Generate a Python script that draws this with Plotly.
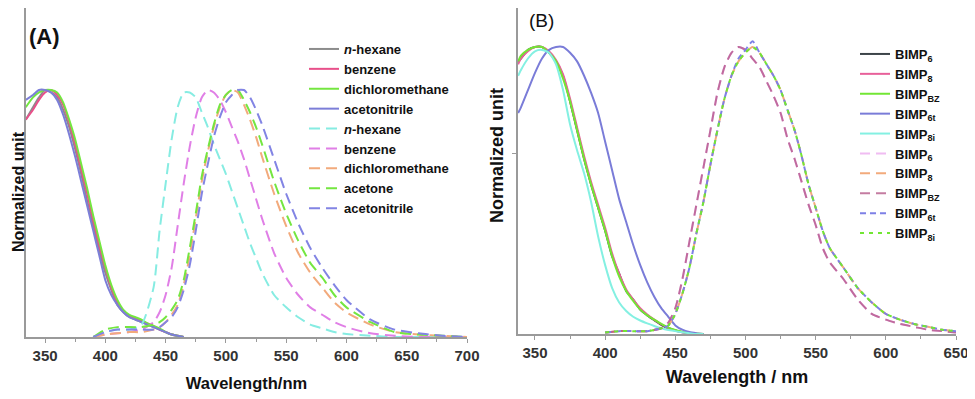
import plotly.graph_objects as go

# ---- panel A: solvent series ----
abs_a_nm = [334, 340, 345, 350, 355, 360, 365, 370, 375, 380, 385, 390, 395, 400,
            405, 410, 415, 420, 425, 430, 435, 440, 445, 450, 455, 460, 465]
abs_a_hexane = [0.88, 0.93, 0.97, 1.0, 0.99, 0.97, 0.92, 0.85, 0.76, 0.66, 0.55, 0.45, 0.35, 0.26,
                0.19, 0.13, 0.10, 0.08, 0.07, 0.06, 0.05, 0.04, 0.03, 0.02, 0.01, 0.005, 0.0]
abs_a_benzene = [0.88, 0.92, 0.96, 0.99, 1.0, 0.98, 0.94, 0.87, 0.78, 0.68, 0.58, 0.47, 0.37, 0.28,
                 0.20, 0.14, 0.105, 0.085, 0.075, 0.065, 0.055, 0.045, 0.03, 0.02, 0.01, 0.005, 0.0]
abs_a_dcm = [0.93, 0.97, 0.99, 1.0, 1.0, 0.99, 0.95, 0.88, 0.80, 0.70, 0.60, 0.49, 0.39, 0.29,
             0.21, 0.15, 0.11, 0.09, 0.08, 0.07, 0.055, 0.045, 0.035, 0.02, 0.01, 0.005, 0.0]
abs_a_acn = [0.96, 0.98, 1.0, 1.0, 0.99, 0.96, 0.90, 0.82, 0.73, 0.63, 0.53, 0.43, 0.33, 0.23,
             0.17, 0.13, 0.10, 0.08, 0.07, 0.06, 0.05, 0.04, 0.03, 0.02, 0.01, 0.005, 0.0]

em_a_nm = [390, 400, 410, 420, 430, 440, 445, 450, 455, 460, 465, 470, 475, 480, 485, 490, 495, 500,
           505, 510, 515, 520, 525, 530, 540, 550, 560, 570, 580, 590, 600, 620, 640, 660, 680, 700]
em_a_hexane = [0.0, 0.02, 0.03, 0.03, 0.05, 0.20, 0.43, 0.62, 0.80, 0.93, 0.99, 0.99, 0.97, 0.91, 0.85, 0.78, 0.72, 0.66,
               0.59, 0.52, 0.45, 0.38, 0.32, 0.26, 0.17, 0.12, 0.08, 0.05, 0.035, 0.02, 0.012, 0.005, 0.0, 0.0, 0.0, 0.0]
em_a_benzene = [0.0, 0.01, 0.015, 0.02, 0.03, 0.06, 0.10, 0.17, 0.28, 0.45, 0.62, 0.77, 0.89, 0.97, 1.0, 0.99, 0.96, 0.91,
                0.85, 0.79, 0.72, 0.64, 0.56, 0.48, 0.34, 0.24, 0.17, 0.12, 0.09, 0.06, 0.04, 0.015, 0.005, 0.0, 0.0, 0.0]
em_a_dcm = [0.0, 0.01, 0.015, 0.02, 0.02, 0.03, 0.04, 0.06, 0.09, 0.13, 0.21, 0.33, 0.48, 0.63, 0.75, 0.85, 0.93, 0.98,
            1.0, 0.99, 0.94, 0.88, 0.81, 0.73, 0.58, 0.45, 0.34, 0.26, 0.20, 0.14, 0.10, 0.05, 0.02, 0.01, 0.005, 0.0]
em_a_acetone = [0.0, 0.03, 0.04, 0.04, 0.04, 0.05, 0.06, 0.08, 0.11, 0.15, 0.23, 0.36, 0.50, 0.65, 0.76, 0.86, 0.94, 0.98,
                1.0, 1.0, 0.96, 0.91, 0.85, 0.78, 0.63, 0.50, 0.39, 0.30, 0.24, 0.17, 0.12, 0.06, 0.02, 0.01, 0.005, 0.0]
em_a_acn = [0.0, 0.02, 0.03, 0.03, 0.03, 0.03, 0.04, 0.06, 0.08, 0.12, 0.19, 0.29, 0.43, 0.58, 0.70, 0.81, 0.89, 0.95,
            0.98, 1.0, 1.0, 0.97, 0.92, 0.86, 0.72, 0.58, 0.46, 0.36, 0.28, 0.21, 0.15, 0.07, 0.03, 0.015, 0.005, 0.0]

# ---- panel B: BIMP compounds ----
abs_b_nm = [338, 340, 345, 350, 355, 360, 365, 370, 375, 380, 385, 390, 395, 400,
            405, 410, 415, 420, 425, 430, 435, 440, 445, 450, 455, 460, 465, 470]
abs_b_6 = [0.95, 0.96, 0.99, 1.0, 1.0, 0.98, 0.95, 0.90, 0.81, 0.71, 0.61, 0.52, 0.44, 0.36,
           0.27, 0.21, 0.15, 0.12, 0.085, 0.065, 0.048, 0.032, 0.02, 0.012, 0.006, 0.003, 0.0, 0.0]
abs_b_8 = [0.94, 0.96, 0.985, 1.0, 1.0, 0.985, 0.955, 0.905, 0.82, 0.72, 0.62, 0.53, 0.45, 0.37,
           0.28, 0.21, 0.155, 0.12, 0.09, 0.068, 0.05, 0.034, 0.021, 0.012, 0.006, 0.003, 0.0, 0.0]
abs_b_bz = [0.95, 0.97, 0.99, 1.0, 1.0, 0.98, 0.95, 0.89, 0.81, 0.71, 0.61, 0.52, 0.44, 0.36,
            0.27, 0.20, 0.15, 0.115, 0.085, 0.065, 0.05, 0.035, 0.022, 0.014, 0.008, 0.004, 0.002, 0.0]
abs_b_6t = [0.77, 0.79, 0.85, 0.91, 0.96, 0.99, 1.0, 1.0, 0.98, 0.95, 0.90, 0.84, 0.77, 0.67,
            0.57, 0.47, 0.39, 0.31, 0.24, 0.18, 0.13, 0.09, 0.06, 0.03, 0.015, 0.007, 0.003, 0.0]
abs_b_8i = [0.90, 0.92, 0.96, 0.985, 0.99, 0.98, 0.94, 0.85, 0.73, 0.64, 0.56, 0.46, 0.34, 0.24,
            0.16, 0.11, 0.08, 0.06, 0.047, 0.037, 0.028, 0.02, 0.014, 0.01, 0.006, 0.003, 0.0, 0.0]

em_b_nm = [400, 410, 420, 430, 440, 445, 450, 455, 460, 465, 470, 475, 480, 485, 490, 495, 500, 505, 510,
           515, 520, 525, 530, 535, 540, 545, 550, 555, 560, 570, 580, 590, 600, 610, 620, 630, 640, 650]
em_b_shift = [0.005, 0.01, 0.01, 0.01, 0.02, 0.04, 0.09, 0.19, 0.32, 0.45, 0.58, 0.71, 0.84, 0.93, 0.98, 1.0, 0.99, 0.96, 0.93,
              0.88, 0.83, 0.77, 0.68, 0.61, 0.53, 0.45, 0.38, 0.30, 0.25, 0.19, 0.12, 0.07, 0.05, 0.035, 0.025, 0.015, 0.01, 0.005]
em_b_main = [0.005, 0.01, 0.01, 0.01, 0.02, 0.03, 0.07, 0.14, 0.23, 0.35, 0.46, 0.59, 0.71, 0.82, 0.90, 0.95, 0.98, 1.0, 0.98,
             0.94, 0.90, 0.85, 0.78, 0.71, 0.62, 0.52, 0.44, 0.36, 0.30, 0.23, 0.16, 0.11, 0.07, 0.05, 0.035, 0.025, 0.015, 0.01]
em_b_6t = [0.005, 0.01, 0.01, 0.01, 0.02, 0.03, 0.07, 0.14, 0.23, 0.35, 0.46, 0.59, 0.71, 0.82, 0.90, 0.96, 0.99, 1.02, 0.98,
           0.94, 0.90, 0.85, 0.78, 0.71, 0.62, 0.52, 0.44, 0.36, 0.30, 0.23, 0.16, 0.11, 0.07, 0.05, 0.035, 0.025, 0.015, 0.01]

FONT = "Liberation Sans, Arial, sans-serif"
DASH_A = "11px,6px"
DASH_B = "10px,6px"
W, H = 975, 399
OFF = 8  # page body margin that shifts the figure in the browser

def px_x(p):
    return (p - OFF) / W

def px_y(p):
    return 1 - (p - OFF) / H

fig = go.Figure()

def add(x, y, name, color, xa, ya, leg, dash=None, opacity=1.0, width=2):
    fig.add_trace(go.Scatter(
        x=x, y=y, name=name, mode="lines", xaxis=xa, yaxis=ya, legend=leg, opacity=opacity,
        line=dict(color=color, width=width, dash=dash, shape="spline", smoothing=0.6)))

# panel A
add(abs_a_nm, abs_a_hexane, "<i>n</i>-hexane", "#8c8c8c", "x", "y", "legend")
add(abs_a_nm, abs_a_benzene, "benzene", "#e8508a", "x", "y", "legend")
add(abs_a_nm, abs_a_dcm, "dichloromethane", "#74e640", "x", "y", "legend")
add(abs_a_nm, abs_a_acn, "acetonitrile", "#7c7ed8", "x", "y", "legend")
add(em_a_nm, em_a_hexane, "<i>n</i>-hexane", "#86ece2", "x", "y", "legend", DASH_A)
add(em_a_nm, em_a_benzene, "benzene", "#e07fe6", "x", "y", "legend", DASH_A)
add(em_a_nm, em_a_dcm, "dichloromethane", "#f2aa7c", "x", "y", "legend", DASH_A)
add(em_a_nm, em_a_acetone, "acetone", "#74e640", "x", "y", "legend", DASH_A)
add(em_a_nm, em_a_acn, "acetonitrile", "#8284e4", "x", "y", "legend", DASH_A)

# panel B
add(abs_b_nm, abs_b_6, "BIMP<sub>6</sub>", "#3c4448", "x2", "y2", "legend2")
add(abs_b_nm, abs_b_8, "BIMP<sub>8</sub>", "#e8609a", "x2", "y2", "legend2")
add(abs_b_nm, abs_b_bz, "BIMP<sub>BZ</sub>", "#72e634", "x2", "y2", "legend2")
add(abs_b_nm, abs_b_6t, "BIMP<sub>6t</sub>", "#7a7cd8", "x2", "y2", "legend2")
add(abs_b_nm, abs_b_8i, "BIMP<sub>8i</sub>", "#84f0e2", "x2", "y2", "legend2")
add(em_b_nm, em_b_shift, "BIMP<sub>6</sub>", "#e27ae6", "x2", "y2", "legend2", DASH_B, 0.5)
add(em_b_nm, em_b_main, "BIMP<sub>8</sub>", "#f2aa7c", "x2", "y2", "legend2", DASH_B)
add(em_b_nm, em_b_shift, "BIMP<sub>BZ</sub>", "#b05082", "x2", "y2", "legend2", DASH_B, 0.75)
add(em_b_nm, em_b_6t, "BIMP<sub>6t</sub>", "#7e80e6", "x2", "y2", "legend2", "6px,4px")
add(em_b_nm, em_b_main, "BIMP<sub>8i</sub>", "#72e634", "x2", "y2", "legend2", "4px,5px")

tickfont = dict(family=FONT, size=15, color="#333", weight="bold")
axis_common = dict(showline=True, linecolor="#9a9a9a", linewidth=1.5, showgrid=False, zeroline=False,
                   ticks="outside", ticklen=4, tickcolor="#9a9a9a", tickfont=tickfont, automargin=False)
minor = dict(dtick=25, ticks="outside", ticklen=3, tickcolor="#9a9a9a")
legfont = dict(family=FONT, size=13, color="#111", weight="bold")

fig.update_layout(
    width=W, height=H, margin=dict(l=0, r=0, t=0, b=0, pad=0, autoexpand=False),
    paper_bgcolor="white", plot_bgcolor="white", showlegend=True,
    font=dict(family=FONT, color="#111"),
    xaxis=dict(axis_common, domain=[px_x(26), px_x(467)], range=[334.2, 700], dtick=50, tick0=350, minor=minor,
               title=dict(text="Wavelength/nm", standoff=15,
                          font=dict(family=FONT, size=16.5, color="#111", weight="bold")), anchor="y"),
    yaxis=dict(axis_common, domain=[px_y(337), 1.0], range=[0, 1.332], tickvals=[0.676],
               showticklabels=False, anchor="x"),
    xaxis2=dict(axis_common, domain=[px_x(518), px_x(956)], range=[337.9, 650], dtick=50, tick0=350, minor=minor,
                title=dict(text="Wavelength / nm", standoff=11,
                           font=dict(family=FONT, size=18, color="#111", weight="bold")), anchor="y2"),
    yaxis2=dict(axis_common, domain=[px_y(334), 1.0], range=[0, 1.136], tickvals=[0.63],
                showticklabels=False, anchor="x2"),
    legend=dict(x=px_x(304), y=px_y(34), xanchor="left", yanchor="top", bgcolor="rgba(0,0,0,0)",
                font=legfont, tracegroupgap=0, itemwidth=30),
    legend2=dict(x=px_x(855), y=px_y(39), xanchor="left", yanchor="top", bgcolor="rgba(0,0,0,0)",
                 font=legfont, tracegroupgap=0, itemwidth=30),
    annotations=[
        dict(text="(A)", x=px_x(27), y=px_y(37), xref="paper", yref="paper", xanchor="left",
             yanchor="middle", showarrow=False, font=dict(family=FONT, size=22, color="#111", weight="bold")),
        dict(text="(B)", x=px_x(527), y=px_y(21), xref="paper", yref="paper", xanchor="left",
             yanchor="middle", showarrow=False, font=dict(family=FONT, size=19, color="#111")),
        dict(text="Normalized unit", x=px_x(18), y=px_y(192), xref="paper", yref="paper", textangle=-90,
             xanchor="center", yanchor="middle", showarrow=False,
             font=dict(family=FONT, size=16, color="#111", weight="bold")),
        dict(text="Normalized unit", x=px_x(497), y=px_y(155), xref="paper", yref="paper", textangle=-90,
             xanchor="center", yanchor="middle", showarrow=False,
             font=dict(family=FONT, size=18, color="#111", weight="bold")),
    ],
)

fig.write_html("out.html")
